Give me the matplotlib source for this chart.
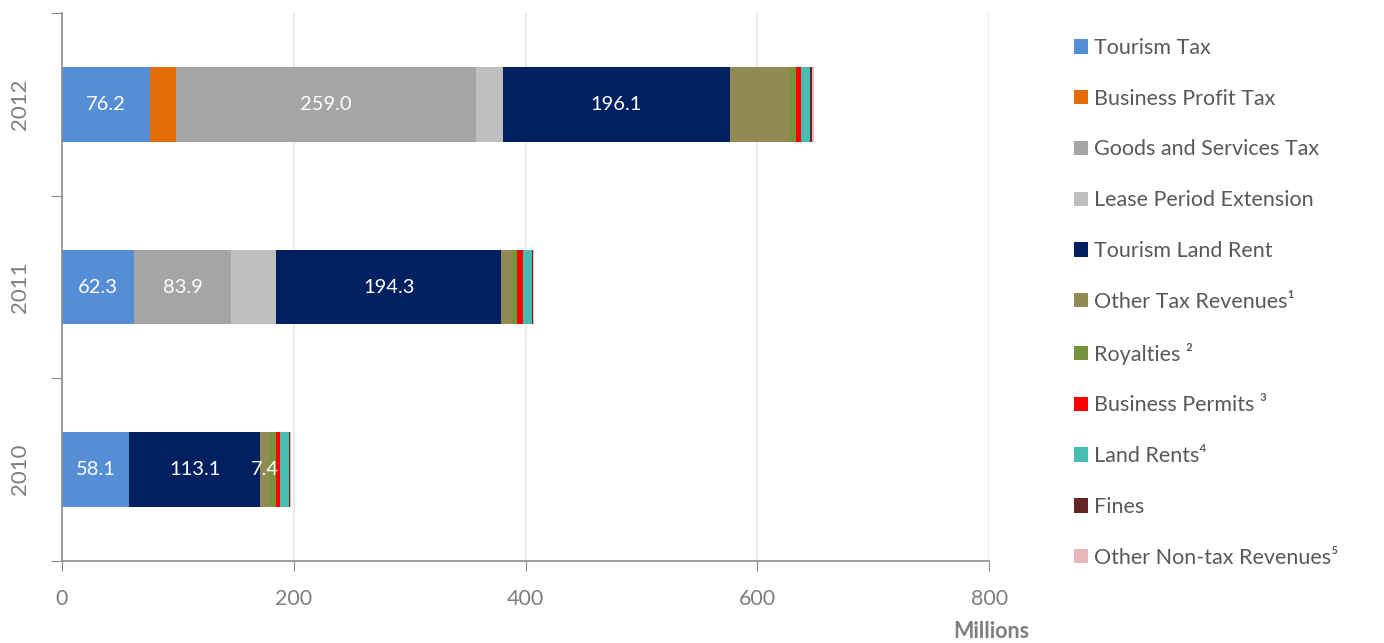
import numpy as np
import matplotlib
matplotlib.use('Agg')
import matplotlib.pyplot as plt

plt.rcParams['font.family'] = ['Lato', 'DejaVu Sans']

years = ['2010', '2011', '2012']
series = [
    'Tourism Tax', 'Business Profit Tax', 'Goods and Services Tax',
    'Lease Period Extension', 'Tourism Land Rent', 'Other Tax Revenues\u00b9',
    'Royalties \u00b2', 'Business Permits \u00b3', 'Land Rents\u2074', 'Fines',
    'Other Non-tax Revenues\u2075',
]
colors = ['#558ED5', '#E36C09', '#A5A5A5', '#BFBFBF', '#002060', '#938953',
          '#77933C', '#FF0000', '#47BCB0', '#632523', '#E6B9B8']

# values in millions, per year (2010, 2011, 2012)
tourism_tax = [58.1, 62.3, 76.2]
business_profit_tax = [0.0, 0.0, 22.3]
goods_services_tax = [0.0, 83.9, 259.0]
lease_extension = [0.0, 38.5, 22.6]
tourism_land_rent = [113.1, 194.3, 196.1]
other_tax = [7.4, 9.5, 51.0]
royalties = [6.0, 3.7, 6.0]
business_permits = [3.4, 5.5, 4.2]
land_rents = [7.9, 7.5, 8.0]
fines = [1.2, 1.3, 2.0]
other_nontax = [0.2, 0.3, 1.2]

data = [tourism_tax, business_profit_tax, goods_services_tax, lease_extension,
        tourism_land_rent, other_tax, royalties, business_permits, land_rents,
        fines, other_nontax]

# which segments carry a value label: (series index, year index)
labelled = [(0, 0), (4, 0), (5, 0), (0, 1), (2, 1), (4, 1), (0, 2), (2, 2), (4, 2)]

fig = plt.figure(figsize=(13.84, 6.43), dpi=100)
ax = fig.add_axes([0.0448, 0.1275, 0.670, 0.8523])

y = np.arange(len(years))
left = np.zeros(len(years))
bars = []
for name, vals, c in zip(series, data, colors):
    b = ax.barh(y, vals, left=left, height=0.41, color=c, label=name,
                edgecolor='none')
    bars.append(b)
    left += np.array(vals)

for si, yi in labelled:
    rect = bars[si][yi]
    cx = rect.get_x() + rect.get_width() / 2
    ax.text(cx, y[yi], f'{data[si][yi]:.1f}', ha='center', va='center',
            color='white', fontsize=14.5)

ax.set_xlim(0, 800)
ax.set_ylim(-0.5, 2.5)
ax.set_xticks([0, 200, 400, 600, 800])
ax.tick_params(axis='x', colors='#7f7f7f', labelsize=15.5, length=7,
               color='#8c8c8c', pad=13)
ax.set_yticks([-0.5, 0.5, 1.5, 2.5], minor=False)
ax.set_yticklabels([])
ax.tick_params(axis='y', length=8, color='#8c8c8c')
for i, yr in enumerate(years):
    ax.text(-0.045, i, yr, transform=ax.get_yaxis_transform(), rotation=90,
            ha='center', va='center', fontsize=16, color='#7f7f7f')

ax.xaxis.grid(True, color='#e6e6e6', linewidth=1.2)
ax.set_axisbelow(True)
for s in ['top', 'right']:
    ax.spines[s].set_visible(False)
for s in ['left', 'bottom']:
    ax.spines[s].set_color('#8c8c8c')
    ax.spines[s].set_linewidth(1.2)

fig.text(1029 / 1384, 1 - 632 / 643, 'Millions', ha='right', va='center',
         fontsize=15.5, fontweight='bold', color='#7f7f7f')

leg = ax.legend(loc='upper left', bbox_to_anchor=(1.075, 0.982), frameon=False,
                fontsize=15.5, handlelength=0.65, handleheight=0.65,
                handletextpad=0.3, labelspacing=1.43, borderaxespad=0.3)
for t in leg.get_texts():
    t.set_color('#595959')

fig.savefig('out.png', dpi=100)
